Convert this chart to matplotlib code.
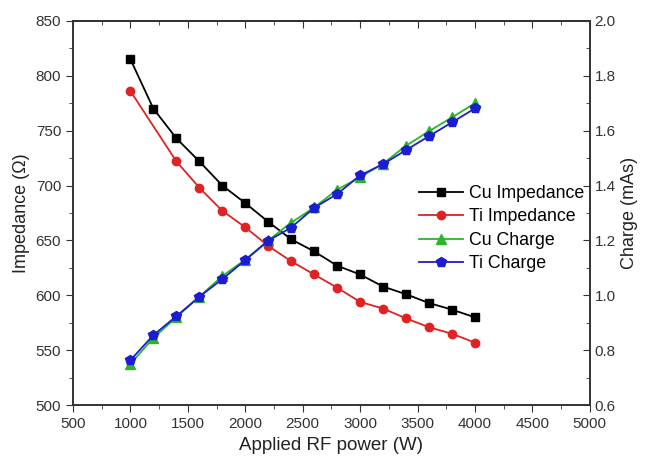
import matplotlib.pyplot as plt
import numpy as np
from matplotlib.ticker import MultipleLocator

plt.rcParams['font.family'] = ['Liberation Sans', 'DejaVu Sans']

# 数据
power = [1000, 1200, 1400, 1600, 1800, 2000, 2200, 2400, 2600, 2800,
         3000, 3200, 3400, 3600, 3800, 4000]
cu_impedance = [815, 770, 743, 722, 700, 684, 667, 651, 640, 627,
                619, 608, 601, 593, 587, 580]
ti_power = [1000, 1400, 1600, 1800, 2000, 2200, 2400, 2600, 2800,
            3000, 3200, 3400, 3600, 3800, 4000]
ti_impedance = [786, 722, 698, 677, 662, 645, 631, 619, 607,
                594, 588, 579, 571, 565, 557]
cu_charge = [0.750, 0.845, 0.920, 0.995, 1.070, 1.130, 1.200, 1.265, 1.320, 1.385,
             1.430, 1.480, 1.545, 1.598, 1.648, 1.700]
ti_charge = [0.764, 0.855, 0.924, 0.995, 1.059, 1.128, 1.199, 1.247, 1.319, 1.369,
             1.437, 1.478, 1.529, 1.580, 1.630, 1.681]

fig = plt.figure(figsize=(6.46, 4.62), dpi=100)
ax = fig.add_axes([0.113, 0.123, 0.8, 0.832])
ax2 = ax.twinx()

l1, = ax.plot(power, cu_impedance, color='black', marker='s', markersize=5.5,
              linewidth=1.3, label='Cu Impedance')
l2, = ax.plot(ti_power, ti_impedance, color='#e02222', marker='o', markersize=6,
              linewidth=1.3, label='Ti Impedance')
l3, = ax2.plot(power, cu_charge, color='#2bb52b', marker='^', markersize=6.5,
               linewidth=1.3, label='Cu Charge')
l4, = ax2.plot(power, ti_charge, color='#1c1cd0', marker='p', markersize=7,
               linewidth=1.3, label='Ti Charge')

ax.set_xlim(500, 5000)
ax.set_ylim(500, 850)
ax2.set_ylim(0.6, 2.0)

ax.xaxis.set_major_locator(MultipleLocator(500))
ax.xaxis.set_minor_locator(MultipleLocator(250))
ax.yaxis.set_major_locator(MultipleLocator(50))
ax.yaxis.set_minor_locator(MultipleLocator(25))
ax2.yaxis.set_major_locator(MultipleLocator(0.2))
ax2.yaxis.set_minor_locator(MultipleLocator(0.1))

tick_col = '#333333'
ax.tick_params(axis='x', which='both', direction='out', top=False, labelsize=11, colors=tick_col)
ax.tick_params(axis='x', which='major', length=5)
ax.tick_params(axis='x', which='minor', length=3)
ax.tick_params(axis='y', which='both', direction='out', right=False, labelsize=11, colors=tick_col)
ax.tick_params(axis='y', which='major', length=5)
ax.tick_params(axis='y', which='minor', length=3)
ax2.tick_params(axis='y', which='both', direction='in', labelsize=11, colors=tick_col)
ax2.tick_params(axis='y', which='major', length=5)
ax2.tick_params(axis='y', which='minor', length=3)
ax2.yaxis.set_major_formatter(plt.FuncFormatter(lambda v, p: f'{v:.1f}'))

# 顶部刻度朝内
top = ax.secondary_xaxis('top')
top.xaxis.set_major_locator(MultipleLocator(500))
top.xaxis.set_minor_locator(MultipleLocator(250))
top.tick_params(which='both', direction='in', labeltop=False, colors=tick_col)
top.tick_params(which='major', length=5)
top.tick_params(which='minor', length=3)
top.spines['top'].set_linewidth(1.2)
top.spines['top'].set_color(tick_col)

for a in (ax, ax2):
    for s in a.spines.values():
        s.set_linewidth(1.2)
        s.set_color(tick_col)

ax.set_xlabel('Applied RF power (W)', fontsize=13.5, color='#222222')
ax.set_ylabel('Impedance (Ω)', fontsize=13, color='#222222')
ax2.set_ylabel('Charge (mAs)', fontsize=13, color='#222222')

fig.legend(handles=[l1, l2, l3, l4], loc='center', bbox_to_anchor=(0.776, 0.505),
           frameon=False, fontsize=12.8, handlelength=2.5, handletextpad=0.3,
           labelspacing=0.36)

fig.savefig('out.png', dpi=100)
